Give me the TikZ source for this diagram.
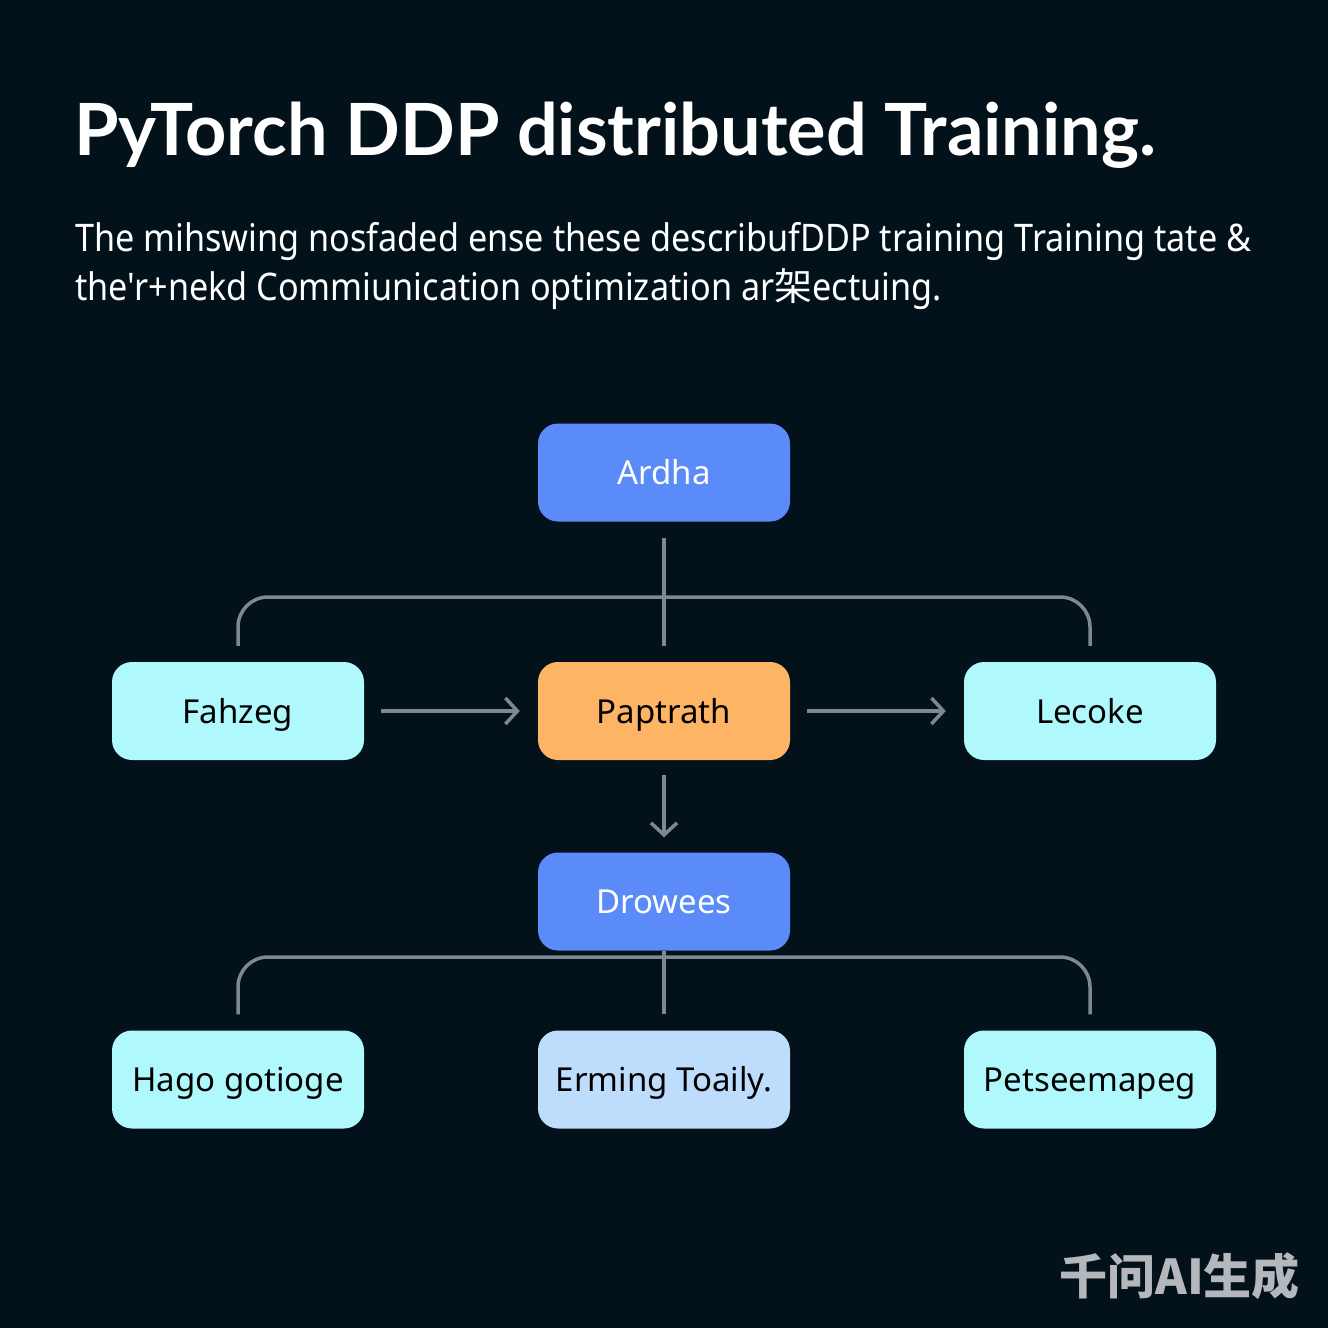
\documentclass[tikz,border=0pt]{standalone}
\usepackage{fontspec}
\setmainfont{Noto Sans}
\newfontfamily\subfont[FakeStretch=0.9]{Noto Sans}
\newfontfamily\titlefont{Lato}
\newfontfamily\cjk{Noto Sans CJK SC}
\usetikzlibrary{arrows.meta}
\definecolor{bgdark}{HTML}{02111A}
\definecolor{boxblue}{HTML}{5B8BF8}
\definecolor{boxcyan}{HTML}{AFF9FC}
\definecolor{boxorange}{HTML}{FDB464}
\definecolor{boxpale}{HTML}{BEDCFC}
\definecolor{linegray}{HTML}{7E8890}
\definecolor{markgray}{HTML}{B4B8BC}
\tikzset{
	box/.style={rounded corners=20pt, minimum width=252pt, minimum height=98pt, inner sep=0pt, text height=24pt, text depth=0pt, font=\fontsize{33}{40}\selectfont},
	bluebox/.style={box, fill=boxblue, text=white},
	cyanbox/.style={box, fill=boxcyan, text=black},
	orangebox/.style={box, fill=boxorange, text=black},
	palebox/.style={box, fill=boxpale, text=black},
	conn/.style={draw=linegray, line width=3.5pt},
	>={Straight Barb[length=12pt, width=26pt]}
}
\begin{document}
\begin{tikzpicture}[x=1pt, y=-1pt]
	\coordinate (O) at (0, 0);
	\coordinate (E) at (1328, 1328);
	\coordinate (bus1) at (664, 597);
	\coordinate (bus2) at (664, 957);
% background
\useasboundingbox (O) rectangle (E);
\path [fill=bgdark] (O) rectangle (E);
	% title and text
	\node[anchor=base west, inner sep=0pt, text=white, font=\fontsize{72}{86}\titlefont\bfseries] (title) at (74, 155) {PyTorch DDP distributed Training.};
	\node[anchor=base west, inner sep=0pt, text=white, font=\fontsize{38}{44}\subfont] (line1) at (75, 251) {The mihswing nosfaded ense these describufDDP training Training tate \&};
	\node[anchor=base west, inner sep=0pt, text=white, font=\fontsize{38}{44}\subfont] (line2) at (75, 300) {the'r+nekd Commiunication optimization ar{\cjk 架}ectuing.};
	% boxes
	\node[bluebox] (ardha) at (664, 472.5) {Ardha};
	\node[cyanbox] (fahzeg) at (238, 711) {Fahzeg};
	\node[orangebox] (paptrath) at (664, 711) {Paptrath};
	\node[cyanbox] (lecoke) at (1090, 711) {Lecoke};
	\node[bluebox] (drowees) at (664, 901.5) {Drowees};
	\node[cyanbox] (hago) at (238, 1079.5) {Hago gotioge};
	\node[palebox] (erming) at (664, 1079.5) {Erming Toaily.};
	\node[cyanbox] (petsee) at (1090, 1079.5) {Petseemapeg};
	% links
	\draw[conn, shorten <=16pt, shorten >=16pt] (ardha.south) -- (paptrath.north);
	\draw[conn, rounded corners=30pt] ([yshift=16pt]fahzeg.north) |- (bus1) -| ([yshift=16pt]lecoke.north);
	\draw[conn, ->, shorten <=17pt, shorten >=18pt] (fahzeg.east) -- (paptrath.west);
	\draw[conn, ->, shorten <=17pt, shorten >=18pt] (paptrath.east) -- (lecoke.west);
	\draw[conn, ->, shorten <=15pt, shorten >=15pt] (paptrath.south) -- (drowees.north);
	\draw[conn, shorten >=16pt] (drowees.south) -- (erming.north);
	\draw[conn, rounded corners=30pt] ([yshift=16pt]hago.north) |- (bus2) -| ([yshift=16pt]petsee.north);
	% mark
	\node[anchor=east, inner sep=0pt, text=markgray, font=\fontsize{48}{52}\cjk\bfseries] (mark) at (1300, 1276) {千问AI生成};
\end{tikzpicture}
\end{document}
